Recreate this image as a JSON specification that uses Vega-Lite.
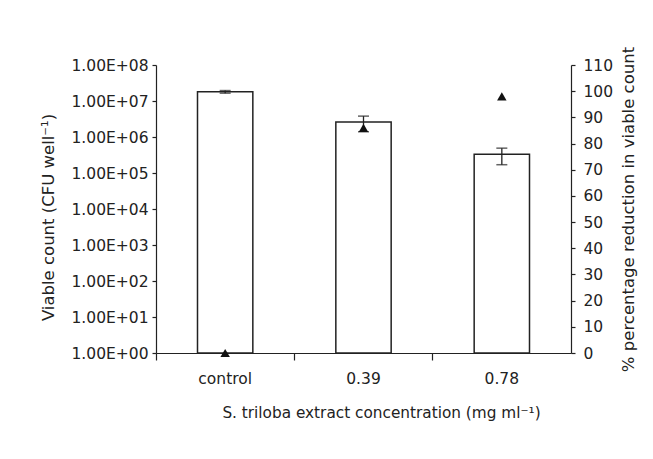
{
  "$schema": "https://vega.github.io/schema/vega-lite/v6.json",
  "autosize": "none",
  "width": 415,
  "height": 288,
  "padding": {"left": 156, "top": 65, "right": 82, "bottom": 106},
  "background": "white",
  "config": {
    "view": {"stroke": null},
    "font": "DejaVu Sans",
    "axis": {
      "labelFont": "DejaVu Sans",
      "titleFont": "DejaVu Sans",
      "labelFontSize": 15.5,
      "titleFontSize": 16,
      "titleFontWeight": "normal",
      "labelColor": "#222",
      "titleColor": "#222",
      "domainColor": "#222",
      "tickColor": "#222",
      "domainWidth": 1.2,
      "tickWidth": 1.2,
      "grid": false
    }
  },
  "data": {
    "values": [
      {"conc": "control", "count": 18000000, "lo": 16500000, "hi": 19500000, "reduction": 0},
      {"conc": "0.39", "count": 2600000, "lo": 1400000, "hi": 3800000, "reduction": 86},
      {"conc": "0.78", "count": 330000, "lo": 170000, "hi": 490000, "reduction": 98}
    ]
  },
  "encoding": {
    "x": {
      "field": "conc",
      "type": "nominal",
      "sort": null,
      "scale": {"paddingInner": 0, "paddingOuter": 0},
      "axis": {
        "labelAngle": 0,
        "bandPosition": 0,
        "tickSize": 7,
        "labelPadding": 11,
        "titlePadding": 19,
        "titleFontSize": 15.3,
        "titleX": 225,
        "title": "S. triloba extract concentration (mg ml⁻¹)"
      }
    }
  },
  "layer": [
    {
      "layer": [
        {
          "mark": {"type": "bar", "fill": "white", "stroke": "#222", "strokeWidth": 1.5, "width": {"band": 0.4}},
          "encoding": {
            "y": {
              "field": "count",
              "type": "quantitative",
              "title": "Viable count (CFU well⁻¹)",
              "scale": {"type": "log", "domain": [1, 100000000], "nice": false},
              "axis": {
                "values": [1, 10, 100, 1000, 10000, 100000, 1000000, 10000000, 100000000],
                "labelExpr": "'1.00E+' + format(round(log(datum.value)/LN10), '02d')",
                "titleFontSize": 16.5,
                "titleY": 152,
                "tickSize": 4,
                "labelPadding": 4,
                "titlePadding": 14
              }
            },
            "y2": {"datum": 1}
          }
        },
        {
          "mark": {"type": "rule", "color": "#222", "strokeWidth": 1.3},
          "encoding": {
            "y": {"field": "lo", "type": "quantitative", "title": "Viable count (CFU well⁻¹)"},
            "y2": {"field": "hi"}
          }
        },
        {
          "mark": {"type": "tick", "color": "#222", "size": 11, "thickness": 1.5, "orient": "horizontal"},
          "encoding": {
            "y": {"field": "lo", "type": "quantitative", "title": "Viable count (CFU well⁻¹)"}
          }
        },
        {
          "mark": {"type": "tick", "color": "#222", "size": 11, "thickness": 1.5, "orient": "horizontal"},
          "encoding": {
            "y": {"field": "hi", "type": "quantitative", "title": "Viable count (CFU well⁻¹)"}
          }
        }
      ]
    },
    {
      "mark": {"type": "point", "shape": "triangle-up", "filled": true, "color": "#111", "size": 90, "opacity": 1},
      "encoding": {
        "y": {
          "field": "reduction",
          "type": "quantitative",
          "title": "% percentage reduction in viable count",
          "scale": {"domain": [0, 110], "nice": false, "zero": true},
          "axis": {
            "orient": "right",
            "values": [0, 10, 20, 30, 40, 50, 60, 70, 80, 90, 100, 110],
            "titleFontSize": 16.5,
            "tickSize": 4,
            "labelPadding": 8,
            "titlePadding": 8,
            "titleAngle": 270,
            "titleBaseline": "top"
          }
        }
      }
    }
  ],
  "resolve": {"scale": {"y": "independent"}}
}
